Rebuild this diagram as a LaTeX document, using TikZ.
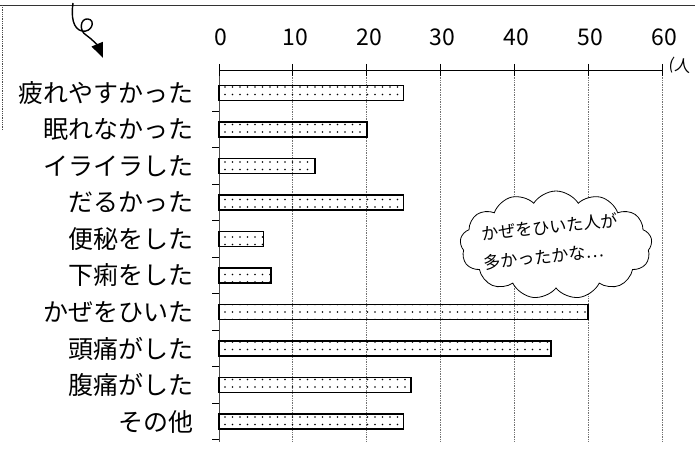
\documentclass[tikz,border=0pt]{standalone}
\usepackage{fontspec}
\setmainfont{Noto Sans CJK JP}
\usetikzlibrary{calc,arrows.meta,patterns.meta,shapes.symbols}

\begin{document}
\begin{tikzpicture}[x=1pt, y=-1pt,
    bar/.style={draw=black, line width=1.6pt, pattern={Dots[distance=7.5pt, radius=0.9pt]}, pattern color=black},
    gridline/.style={draw=black!55, densely dotted, line width=0.7pt},
    rowlabel/.style={anchor=east, inner sep=0pt, font=\fontsize{25}{27}\selectfont},
    ticknum/.style={inner sep=0pt, font=\fontsize{23}{25}\selectfont},
    note/.style={anchor=west, inner sep=0pt, rotate=6, font=\fontsize{17}{19}\selectfont}]
    \useasboundingbox (0,0) rectangle (695,462);

    % Frame of the scanned page
    \draw[black!80, line width=0.8pt] (0,5) -- (695,5);
    \draw[black!70, densely dotted, line width=0.8pt] (2,5) -- (2,130);

    % Curly arrow in the corner
    \coordinate (P0) at (73,3);
    \coordinate (P1) at (103,58);
    \draw[line width=1.4pt, -{Triangle[length=15pt, width=12pt]}]
        (P0) .. controls (71,17) and (73,29) .. (82,31)
             .. controls (92,33) and (96,20) .. (88,19)
             .. controls (80,18) and (79,31) .. (86,35)
             .. controls (93,40) and (98,46) .. (P1);

    % Define the corners of the plot area
    \coordinate (O) at (219,70);
    \coordinate (B) at (219,442);
    \coordinate (X) at (662,70);

    % Grid lines every 10
    \draw[gridline] (292.8,70) -- (292.8,442);
    \draw[gridline] (366.7,70) -- (366.7,442);
    \draw[gridline] (440.5,70) -- (440.5,442);
    \draw[gridline] (514.3,70) -- (514.3,442);
    \draw[gridline] (588.2,70) -- (588.2,442);
    \draw[gridline] (662.0,70) -- (662.0,442);

    % Axes
    \draw[line width=0.9pt] (O) -- (X);
    \draw[black!70, line width=0.9pt] (O) -- (B);

    % Ticks on the value axis
    \draw[line width=0.8pt] (219,64) -- (219,76);
    \draw[line width=0.8pt] (292.8,64) -- (292.8,76);
    \draw[line width=0.8pt] (366.7,64) -- (366.7,76);
    \draw[line width=0.8pt] (440.5,64) -- (440.5,76);
    \draw[line width=0.8pt] (514.3,64) -- (514.3,76);
    \draw[line width=0.8pt] (588.2,64) -- (588.2,76);
    \draw[line width=0.8pt] (662.0,64) -- (662.0,76);

    % Small ticks between the rows
    \draw[line width=0.8pt] (212,111.3) -- (219,111.3);
    \draw[line width=0.8pt] (212,147.8) -- (219,147.8);
    \draw[line width=0.8pt] (212,184.3) -- (219,184.3);
    \draw[line width=0.8pt] (212,220.8) -- (219,220.8);
    \draw[line width=0.8pt] (212,257.3) -- (219,257.3);
    \draw[line width=0.8pt] (212,293.8) -- (219,293.8);
    \draw[line width=0.8pt] (212,330.3) -- (219,330.3);
    \draw[line width=0.8pt] (212,366.8) -- (219,366.8);
    \draw[line width=0.8pt] (212,403.3) -- (219,403.3);
    \draw[line width=0.8pt] (212,439.8) -- (219,439.8);

    % Tick numbers
    \node[ticknum] (n0)  at (221,37)   {0};
    \node[ticknum] (n10) at (295,37)   {10};
    \node[ticknum] (n20) at (369,37)   {20};
    \node[ticknum] (n30) at (442,37)   {30};
    \node[ticknum] (n40) at (516,37)   {40};
    \node[ticknum] (n50) at (590,37)   {50};
    \node[ticknum] (n60) at (664,37)   {60};
    \node[ticknum, font=\fontsize{16}{18}\selectfont, rotate=-8] (unit) at (680,66) {(人};

    % Bars
    \draw[bar] (219,85.5)  rectangle (403.6,100.5);
    \draw[bar] (219,122)   rectangle (366.7,137);
    \draw[bar] (219,158.5) rectangle (315.0,173.5);
    \draw[bar] (219,195)   rectangle (403.6,210);
    \draw[bar] (219,231.5) rectangle (263.3,246.5);
    \draw[bar] (219,268)   rectangle (270.7,283);
    \draw[bar] (219,304.5) rectangle (588.2,319.5);
    \draw[bar] (219,341)   rectangle (551.2,356);
    \draw[bar] (219,377.5) rectangle (411.0,392.5);
    \draw[bar] (219,414)   rectangle (403.6,429);

    % Row labels
    \node[rowlabel] (r0) at (194,93)    {疲れやすかった};
    \node[rowlabel] (r1) at (194,129.5) {眠れなかった};
    \node[rowlabel] (r2) at (194,166)   {イライラした};
    \node[rowlabel] (r3) at (194,202.5) {だるかった};
    \node[rowlabel] (r4) at (194,239)   {便秘をした};
    \node[rowlabel] (r5) at (194,275.5) {下痢をした};
    \node[rowlabel] (r6) at (194,312)   {かぜをひいた};
    \node[rowlabel] (r7) at (194,348.5) {頭痛がした};
    \node[rowlabel] (r8) at (194,385)   {腹痛がした};
    \node[rowlabel] (r9) at (194,421.5) {その他};

    % Thought cloud
    \node[cloud, cloud puffs=13, cloud puff arc=115, aspect=2, draw, fill=white,
          line width=0.8pt, minimum width=192pt, minimum height=108pt] (cloud) at (556,245) {};
    \node[note] (note1) at (482,234) {かぜをひいた人が};
    \node[note] (note2) at (484,263) {多かったかな…};

\end{tikzpicture}
\end{document}
